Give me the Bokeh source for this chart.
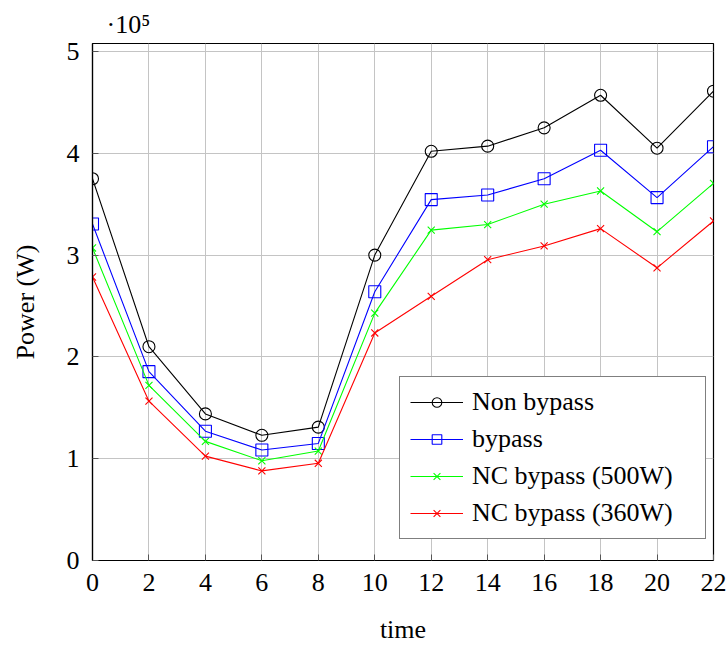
from bokeh.plotting import figure
from bokeh.models import (Range1d, FixedTicker, CustomJSTickFormatter,
                          Legend, LegendItem, Title)
from bokeh.embed import file_html
from bokeh.resources import INLINE

time = [0, 2, 4, 6, 8, 10, 12, 14, 16, 18, 20, 22]
non_bypass = [375000, 210000, 144000, 123000, 131000, 300000, 402000, 407000, 425000, 457000, 405000, 461000]
bypass = [330500, 185500, 127000, 108500, 115000, 264000, 354500, 359000, 375000, 403000, 356500, 406500]
nc_500 = [307000, 172000, 117000, 98000, 107500, 243000, 324500, 330000, 350000, 363000, 323000, 370500]
nc_360 = [278500, 156500, 102500, 88000, 95500, 223500, 259500, 295500, 309000, 326000, 287500, 333500]
x_ticks = [0, 2, 4, 6, 8, 10, 12, 14, 16, 18, 20, 22]
y_ticks = [0, 100000, 200000, 300000, 400000, 500000]

FONT = "Liberation Serif"
FS = "26px"

p = figure(width=728, height=646, output_backend="svg", toolbar_location=None,
           x_range=Range1d(0, 22), y_range=Range1d(0, 507850),
           min_border_left=92, min_border_right=15, min_border_top=43, min_border_bottom=86,
           x_axis_label="time", y_axis_label="Power (W)")
p.background_fill_color = "white"
p.border_fill_color = "white"
p.outline_line_color = "black"
p.outline_line_width = 1.2

for ax in p.xaxis:
    ax.ticker = FixedTicker(ticks=x_ticks)
for ax in p.yaxis:
    ax.ticker = FixedTicker(ticks=y_ticks)
    ax.formatter = CustomJSTickFormatter(code="return (tick/1e5).toFixed(0);")

for ax in list(p.xaxis) + list(p.yaxis):
    ax.major_tick_in = 6
    ax.major_tick_out = 0
    ax.major_tick_line_color = "#555555"
    ax.minor_tick_line_color = None
    ax.axis_line_color = "black"
    ax.axis_line_width = 1.2
    ax.major_label_text_font = FONT
    ax.major_label_text_font_size = FS
    ax.major_label_text_color = "black"
    ax.axis_label_text_font = FONT
    ax.axis_label_text_font_size = FS
    ax.axis_label_text_font_style = "normal"
    ax.axis_label_text_color = "black"

p.xaxis.major_label_standoff = 13
p.xaxis.axis_label_standoff = 21
p.yaxis.major_label_standoff = 13
p.yaxis.axis_label_standoff = 24

p.xgrid.ticker = FixedTicker(ticks=x_ticks)
p.ygrid.ticker = FixedTicker(ticks=y_ticks)
p.grid.grid_line_color = "#c4c4c4"
p.grid.grid_line_width = 1

series = [
    ("Non bypass", non_bypass, "black", "circle"),
    ("bypass", bypass, "blue", "square"),
    ("NC bypass (500W)", nc_500, "#00ff00", "x"),
    ("NC bypass (360W)", nc_360, "red", "x"),
]
items = []
for name, ys, color, marker in series:
    r1 = p.line(time, ys, line_color=color, line_width=1.1)
    if marker == "x":
        r2 = p.scatter(time, ys, marker="x", size=10, line_color=color, line_width=1.1)
    else:
        r2 = p.scatter(time, ys, marker=marker, size=12, line_color=color,
                       fill_color="white", fill_alpha=0, line_width=1.1)
    items.append(LegendItem(label=name, renderers=[r1, r2]))

legend = Legend(items=items, location=(307, 21), padding=10, spacing=7,
                label_height=24, glyph_height=24, glyph_width=53, label_standoff=9,
                label_width=223, margin=0,
                label_text_font=FONT, label_text_font_size=FS, label_text_color="black",
                border_line_color="black", border_line_width=1,
                background_fill_color="white", background_fill_alpha=1)
p.add_layout(legend, "center")

p.add_layout(Title(text="·10⁵", align="left", offset=14, standoff=9,
                   text_font=FONT, text_font_size=FS, text_font_style="normal",
                   text_color="black"), "above")

open("out.html", "w").write(file_html(p, INLINE))
